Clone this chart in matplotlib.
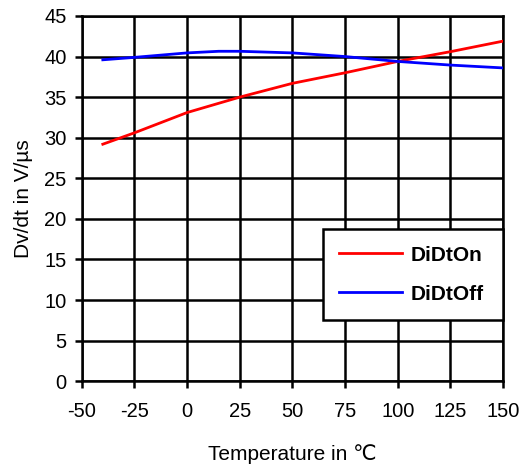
import matplotlib
matplotlib.use("Agg")
import matplotlib.pyplot as plt

plt.rcParams['font.family'] = ['Liberation Sans', 'DejaVu Sans']
plt.rcParams['axes.unicode_minus'] = False

temps = [-40, -25, 0, 25, 50, 75, 100, 125, 150]
didt_on = [29.2, 30.6, 33.1, 35.0, 36.7, 38.0, 39.4, 40.6, 41.9]
temps_off = [-40, -25, 0, 15, 25, 50, 75, 100, 125, 150]
didt_off = [39.6, 39.9, 40.45, 40.65, 40.65, 40.45, 40.0, 39.4, 38.95, 38.6]

fig = plt.figure(figsize=(5.24, 4.70), dpi=100)
ax = fig.add_axes([0.156, 0.189, 0.804, 0.777])

ax.plot(temps, didt_on, color='#ff0000', lw=2, label='DiDtOn', zorder=3)
ax.plot(temps_off, didt_off, color='#0000ff', lw=2, label='DiDtOff', zorder=3)

ax.set_xlim(-50, 150)
ax.set_ylim(0, 45)
ax.set_xticks(range(-50, 151, 25))
ax.set_yticks(range(0, 46, 5))
ax.grid(True, color='black', lw=1.8)
for s in ax.spines.values():
    s.set_linewidth(1.8)
ax.tick_params(direction='out', length=5, width=1.8, labelsize=14.5)
ax.tick_params(axis='x', pad=10)
ax.tick_params(axis='y', pad=6)

ax.set_xlabel('Temperature in ℃', fontsize=15, labelpad=17)
ax.set_ylabel('Dv/dt in V/µs', fontsize=15, labelpad=8)

leg = ax.legend(loc='lower left', bbox_to_anchor=(0.572, 0.167, 0.428, 0.233),
                mode='expand', fancybox=False, framealpha=1, edgecolor='black',
                prop={'weight': 'bold', 'size': 15}, handlelength=3.0,
                handletextpad=0.4, labelspacing=0.95, borderpad=0.8,
                borderaxespad=0)
leg.get_frame().set_linewidth(1.8)
leg.set_zorder(5)

fig.savefig('out.png', dpi=100)
